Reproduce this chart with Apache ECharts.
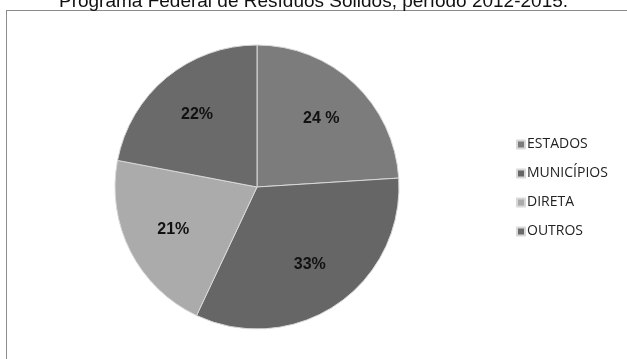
<!DOCTYPE html>
<html>
<head>
<meta charset="utf-8">
<script src="https://cdn.jsdelivr.net/npm/echarts@6/dist/echarts.min.js"></script>
<style>
  html, body { margin: 0; padding: 0; background: #fff; }
  #frame { position: absolute; left: 6px; top: 10px; width: 640px; height: 360px; border: 1px solid #8c8c8c; box-sizing: border-box; }
  #chart { position: absolute; left: 0; top: 0; width: 627px; height: 359px; }
</style>
</head>
<body>
<div id="frame"></div>
<div id="chart"></div>
<script>
const categories = ["ESTADOS", "MUNICÍPIOS", "DIRETA", "OUTROS"];
const values = [24, 33, 21, 22];
const sliceLabels = ["24 %", "33%", "21%", "22%"];
const sliceColors = ["#7c7c7c", "#666666", "#ababab", "#6a6a6a"];

const pieData = categories.map((name, i) => ({ name, value: values[i] }));

const chart = echarts.init(document.getElementById("chart"));
chart.setOption({
  animation: false,
  backgroundColor: "transparent",
  title: {
    text: "Programa Federal de Resíduos Sólidos, período 2012-2015.",
    left: "center",
    top: -13,
    textStyle: {
      fontFamily: "Liberation Sans, Arial",
      fontSize: 19,
      fontWeight: "normal",
      color: "#111",
    },
  },
  legend: {
    orient: "vertical",
    left: 511,
    top: 132,
    itemWidth: 8,
    itemHeight: 8,
    itemGap: 14,
    icon: "rect",
    textStyle: {
      fontFamily: "Open Sans, Liberation Sans",
      fontSize: 14,
      lineHeight: 15,
      color: "#222",
      padding: [0, 0, 0, -3],
    },
    data: categories,
  },
  series: [
    {
      type: "pie",
      center: [257, 187],
      radius: 142,
      startAngle: 90,
      clockwise: true,
      color: sliceColors,
      itemStyle: {
        borderColor: "#d8d8d8",
        borderWidth: 1,
      },
      label: { show: false },
      labelLine: { show: false },
      data: pieData,
    },
    {
      // transparent copy that only places the percentage labels further out
      type: "pie",
      silent: true,
      center: [257, 187],
      radius: 182,
      startAngle: 90,
      clockwise: true,
      itemStyle: { color: "transparent", borderWidth: 0 },
      label: {
        show: true,
        position: "inside",
        fontFamily: "Liberation Sans, Arial",
        fontSize: 16,
        fontWeight: "bold",
        color: "#111",
        formatter: (p) => sliceLabels[p.dataIndex],
      },
      labelLine: { show: false },
      data: pieData,
    },
  ],
});
</script>
</body>
</html>
